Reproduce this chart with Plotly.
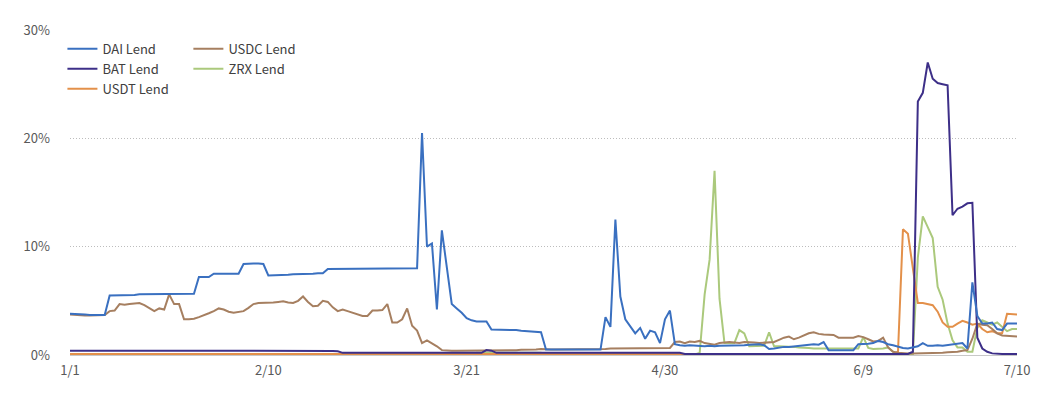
import pandas as pd
import plotly.graph_objects as go

dates = pd.date_range("2020-01-01", "2020-07-10", freq="D")

tick_dates = ["2020-01-01", "2020-02-10", "2020-03-21", "2020-04-30", "2020-06-09", "2020-07-10"]
tick_labels = ["1/1", "2/10", "3/21", "4/30", "6/9", "7/10"]
y_ticks = [0, 10, 20, 30]
y_labels = ["0%", "10%", "20%", "30%"]

dai_lend = [
    3.8, 3.8, 3.75, 3.75, 3.7, 3.7, 3.7, 3.7, 5.5, 5.5,
    5.5, 5.55, 5.55, 5.55, 5.6, 5.6, 5.6, 5.6, 5.6, 5.65,
    5.65, 5.65, 5.65, 5.65, 5.65, 5.65, 7.2, 7.2, 7.2, 7.5,
    7.5, 7.5, 7.5, 7.5, 7.5, 8.4, 8.45, 8.45, 8.45, 8.4,
    7.35, 7.35, 7.4, 7.4, 7.4, 7.45, 7.45, 7.5, 7.5, 7.5,
    7.55, 7.55, 7.95, 7.95, 8.0, 8.0, 8.0, 8.0, 8.0, 8.0,
    8.0, 8.0, 8.0, 8.0, 8.0, 8.0, 8.0, 8.0, 8.0, 8.0,
    8.0, 20.5, 10.0, 10.3, 4.2, 11.5, 8.1, 4.7, 4.3, 3.9,
    3.4, 3.2, 3.1, 3.1, 3.1, 2.35, 2.35, 2.35, 2.35, 2.35,
    2.3, 2.25, 2.2, 2.2, 2.15, 2.1, 0.5, 0.5, 0.5, 0.5,
    0.5, 0.5, 0.5, 0.5, 0.5, 0.5, 0.5, 0.5, 3.5, 2.6,
    12.5, 5.4, 3.3, 2.7, 2.0, 2.5, 1.5, 2.25, 2.1, 1.1,
    3.3, 4.1, 1.0, 0.9, 0.85, 0.9, 0.85, 0.8, 0.8, 0.85,
    0.8, 0.85, 0.85, 0.9, 0.9, 0.85, 0.9, 0.95, 1.0, 1.0,
    0.9, 0.55, 0.6, 0.7, 0.75, 0.75, 0.8, 0.8, 0.85, 0.9,
    1.0, 0.95, 1.2, 0.45, 0.45, 0.45, 0.45, 0.45, 0.45, 1.0,
    1.0, 1.05, 1.1, 1.3, 1.2, 1.0, 0.9, 0.75, 0.65, 0.6,
    0.7, 0.8, 1.1, 0.85, 0.85, 0.9, 0.85, 0.9, 1.0, 1.0,
    1.1, 0.6, 6.7, 3.6, 2.9, 2.9, 3.0, 2.4, 2.3, 2.9,
    2.9, 2.9,
]

usdc_lend = [
    3.75, 3.7, 3.65, 3.65, 3.65, 3.65, 3.7, 3.7, 4.05, 4.1,
    4.7, 4.65, 4.7, 4.75, 4.8, 4.6, 4.3, 4.05, 4.3, 4.2,
    5.6, 4.7, 4.7, 3.3, 3.3, 3.35, 3.5, 3.65, 3.85, 4.05,
    4.3, 4.2, 4.0, 3.9, 3.95, 4.05, 4.35, 4.7, 4.8, 4.8,
    4.8, 4.85, 4.9, 4.95, 4.85, 4.8, 5.0, 5.4, 4.9, 4.5,
    4.55, 5.0, 4.9, 4.4, 4.05, 4.2, 4.05, 3.9, 3.75, 3.6,
    3.6, 4.1, 4.1, 4.15, 4.7, 3.0, 3.0, 3.3, 4.3, 2.7,
    2.25, 1.1, 1.35, 1.1, 0.8, 0.45, 0.4, 0.4, 0.4, 0.4,
    0.4, 0.42, 0.42, 0.42, 0.45, 0.45, 0.45, 0.45, 0.45, 0.45,
    0.45, 0.48, 0.48, 0.5, 0.5, 0.55, 0.5, 0.5, 0.5, 0.5,
    0.5, 0.5, 0.5, 0.5, 0.5, 0.55, 0.55, 0.55, 0.55, 0.6,
    0.6, 0.6, 0.6, 0.6, 0.6, 0.6, 0.62, 0.62, 0.62, 0.65,
    0.65, 0.65, 1.2, 1.25, 1.1, 1.25, 1.2, 1.3, 1.1, 1.0,
    0.95, 1.1, 1.15, 1.2, 1.15, 1.1, 1.2, 1.2, 1.15, 1.1,
    1.15, 1.2, 1.2, 1.4, 1.6, 1.7, 1.45, 1.6, 1.8, 2.0,
    2.1, 1.95, 1.9, 1.9, 1.85, 1.6, 1.6, 1.55, 1.6, 1.75,
    1.65, 1.45, 1.25, 1.3, 1.6, 0.7, 0.3, 0.2, 0.15, 0.15,
    0.15, 0.15, 0.2, 0.2, 0.2, 0.2, 0.2, 0.25, 0.25, 0.3,
    0.4, 0.45, 1.5, 2.9, 2.8, 2.75, 2.4, 2.0, 1.8, 1.75,
    1.7, 1.7,
]

bat_lend = [
    0.4, 0.4, 0.4, 0.4, 0.4, 0.4, 0.4, 0.4, 0.4, 0.4,
    0.4, 0.4, 0.4, 0.42, 0.45, 0.45, 0.42, 0.4, 0.4, 0.4,
    0.4, 0.4, 0.4, 0.4, 0.4, 0.4, 0.4, 0.4, 0.4, 0.4,
    0.4, 0.4, 0.4, 0.4, 0.4, 0.4, 0.4, 0.4, 0.4, 0.4,
    0.4, 0.4, 0.4, 0.4, 0.4, 0.4, 0.4, 0.4, 0.4, 0.4,
    0.4, 0.4, 0.4, 0.38, 0.35, 0.2, 0.2, 0.2, 0.2, 0.2,
    0.2, 0.2, 0.2, 0.2, 0.2, 0.2, 0.2, 0.2, 0.2, 0.2,
    0.2, 0.2, 0.2, 0.2, 0.2, 0.2, 0.2, 0.2, 0.2, 0.2,
    0.2, 0.2, 0.2, 0.2, 0.45, 0.4, 0.2, 0.2, 0.2, 0.2,
    0.2, 0.2, 0.2, 0.2, 0.2, 0.2, 0.2, 0.2, 0.2, 0.2,
    0.2, 0.2, 0.2, 0.2, 0.2, 0.2, 0.2, 0.2, 0.2, 0.2,
    0.2, 0.2, 0.2, 0.2, 0.2, 0.2, 0.2, 0.2, 0.2, 0.2,
    0.2, 0.2, 0.2, 0.2, 0.1, 0.1, 0.1, 0.1, 0.1, 0.1,
    0.1, 0.1, 0.1, 0.1, 0.1, 0.1, 0.1, 0.1, 0.1, 0.1,
    0.1, 0.1, 0.1, 0.1, 0.1, 0.1, 0.1, 0.1, 0.1, 0.1,
    0.1, 0.1, 0.1, 0.1, 0.1, 0.1, 0.1, 0.1, 0.1, 0.1,
    0.1, 0.1, 0.1, 0.1, 0.1, 0.1, 0.1, 0.1, 0.1, 0.1,
    0.3, 23.4, 24.2, 27.0, 25.5, 25.1, 25.0, 24.9, 12.9, 13.5,
    13.7, 14.0, 14.05, 1.6, 0.6, 0.3, 0.15, 0.1, 0.1, 0.1,
    0.1, 0.1,
]

usdt_lend = [
    0.1, 0.1, 0.1, 0.1, 0.1, 0.1, 0.1, 0.1, 0.1, 0.1,
    0.1, 0.1, 0.1, 0.1, 0.1, 0.1, 0.1, 0.1, 0.1, 0.1,
    0.1, 0.1, 0.1, 0.1, 0.1, 0.1, 0.1, 0.1, 0.1, 0.1,
    0.1, 0.1, 0.1, 0.1, 0.1, 0.1, 0.1, 0.1, 0.1, 0.1,
    0.1, 0.1, 0.1, 0.1, 0.1, 0.1, 0.1, 0.1, 0.1, 0.1,
    0.1, 0.1, 0.1, 0.1, 0.1, 0.1, 0.1, 0.1, 0.1, 0.1,
    0.1, 0.1, 0.1, 0.1, 0.1, 0.1, 0.1, 0.1, 0.1, 0.1,
    0.1, 0.1, 0.1, 0.1, 0.1, 0.1, 0.1, 0.1, 0.1, 0.1,
    0.1, 0.1, 0.1, 0.1, 0.1, 0.1, 0.1, 0.1, 0.1, 0.1,
    0.1, 0.1, 0.1, 0.1, 0.1, 0.1, 0.1, 0.1, 0.1, 0.1,
    0.1, 0.1, 0.1, 0.1, 0.1, 0.1, 0.1, 0.1, 0.1, 0.1,
    0.1, 0.1, 0.1, 0.1, 0.1, 0.1, 0.1, 0.1, 0.1, 0.1,
    0.1, 0.1, 0.1, 0.1, 0.1, 0.1, 0.1, 0.1, 0.1, 0.1,
    0.1, 0.1, 0.1, 0.1, 0.1, 0.1, 0.1, 0.1, 0.1, 0.1,
    0.1, 0.1, 0.1, 0.1, 0.1, 0.1, 0.1, 0.1, 0.1, 0.1,
    0.1, 0.1, 0.1, 0.1, 0.1, 0.1, 0.1, 0.1, 0.1, 0.1,
    0.1, 0.1, 0.1, 0.1, 0.1, 0.1, 0.1, 0.3, 11.6, 11.2,
    8.0, 4.8, 4.8, 4.7, 4.6, 4.0, 3.0, 2.6, 2.6, 2.9,
    3.15, 3.0, 2.8, 2.9, 2.4, 2.1, 2.2, 2.0, 2.0, 3.8,
    3.8, 3.75,
]

zrx_lend = [
    0.05, 0.05, 0.05, 0.05, 0.05, 0.05, 0.05, 0.05, 0.05, 0.05,
    0.05, 0.05, 0.05, 0.05, 0.05, 0.05, 0.05, 0.05, 0.05, 0.05,
    0.05, 0.05, 0.05, 0.05, 0.05, 0.05, 0.05, 0.05, 0.05, 0.05,
    0.05, 0.05, 0.05, 0.05, 0.05, 0.05, 0.05, 0.05, 0.05, 0.05,
    0.05, 0.05, 0.05, 0.05, 0.05, 0.05, 0.05, 0.05, 0.05, 0.05,
    0.05, 0.05, 0.05, 0.05, 0.05, 0.05, 0.05, 0.05, 0.05, 0.05,
    0.05, 0.05, 0.05, 0.05, 0.05, 0.05, 0.05, 0.05, 0.05, 0.05,
    0.05, 0.05, 0.05, 0.05, 0.05, 0.05, 0.05, 0.05, 0.05, 0.05,
    0.05, 0.05, 0.2, 0.2, 0.2, 0.2, 0.2, 0.2, 0.2, 0.2,
    0.2, 0.2, 0.2, 0.2, 0.2, 0.2, 0.05, 0.05, 0.05, 0.05,
    0.05, 0.05, 0.05, 0.05, 0.05, 0.05, 0.05, 0.05, 0.05, 0.05,
    0.05, 0.05, 0.05, 0.05, 0.05, 0.05, 0.05, 0.05, 0.05, 0.05,
    0.05, 0.05, 0.05, 0.05, 0.05, 0.05, 0.05, 0.2, 5.6, 8.8,
    17.0, 5.2, 1.1, 1.1, 1.1, 2.3, 2.0, 0.8, 0.8, 0.8,
    0.85, 2.1, 0.8, 0.8, 0.8, 0.8, 0.75, 0.7, 0.7, 0.65,
    0.6, 0.6, 0.55, 0.55, 0.55, 0.55, 0.55, 0.55, 0.55, 0.6,
    1.65, 0.65, 0.55, 0.55, 0.6, 0.7, 0.3, 0.05, 0.05, 0.05,
    0.1, 9.0, 12.8, 11.8, 10.8, 6.3, 5.1, 2.9, 1.35, 0.7,
    0.7, 0.3, 0.3, 2.5, 3.2, 3.0, 2.8, 3.0, 2.6, 2.2,
    2.4, 2.4,
]

series = [
    ("DAI Lend", dai_lend, "#3a70c0", "legend", 1),
    ("BAT Lend", bat_lend, "#3d2f88", "legend", 2),
    ("USDT Lend", usdt_lend, "#e3904a", "legend", 3),
    ("USDC Lend", usdc_lend, "#a67f60", "legend2", 1),
    ("ZRX Lend", zrx_lend, "#abc97c", "legend2", 2),
]
draw_order = ["ZRX Lend", "USDT Lend", "USDC Lend", "BAT Lend", "DAI Lend"]

FONT = "Noto Sans CJK SC, Noto Sans, sans-serif"

fig = go.Figure()
for name in draw_order:
    nm, vals, col, lg, rank = next(s for s in series if s[0] == name)
    fig.add_trace(go.Scatter(
        x=dates, y=vals, name=nm, mode="lines",
        line=dict(color=col, width=2),
        legend=lg, legendrank=rank,
    ))

# page body adds an 8px margin, so the figure is sized to fit the window
fig.update_layout(
    width=1042, height=389,
    margin=dict(l=62, r=33, t=14, b=42),
    paper_bgcolor="white", plot_bgcolor="white",
    font=dict(family=FONT, size=13, color="#595959"),
    showlegend=True,
    legend=dict(
        x=-0.008, y=0.988, xanchor="left", yanchor="top",
        bgcolor="rgba(0,0,0,0)", font=dict(size=13, color="#404040"),
        tracegroupgap=0, itemwidth=30,
    ),
    legend2=dict(
        x=0.125, y=0.988, xanchor="left", yanchor="top",
        bgcolor="rgba(0,0,0,0)", font=dict(size=13, color="#404040"),
        tracegroupgap=0, itemwidth=30,
    ),
    xaxis=dict(
        type="date", range=["2020-01-01", "2020-07-10"],
        tickvals=tick_dates, ticktext=tick_labels,
        showgrid=False, showline=True, linecolor="#c8c8c8", linewidth=1,
        ticks="", zeroline=False, ticklabelstandoff=3,
        tickfont=dict(size=13, color="#595959"),
    ),
    yaxis=dict(
        range=[0, 30], tickvals=y_ticks, ticktext=y_labels,
        showgrid=True, gridcolor="#bdbdbd", griddash="1px,2px", gridwidth=1,
        zeroline=False, showline=False, ticks="",
        ticklabelstandoff=19,
        tickfont=dict(size=13, color="#595959"),
    ),
)

fig.write_html("out.html")
